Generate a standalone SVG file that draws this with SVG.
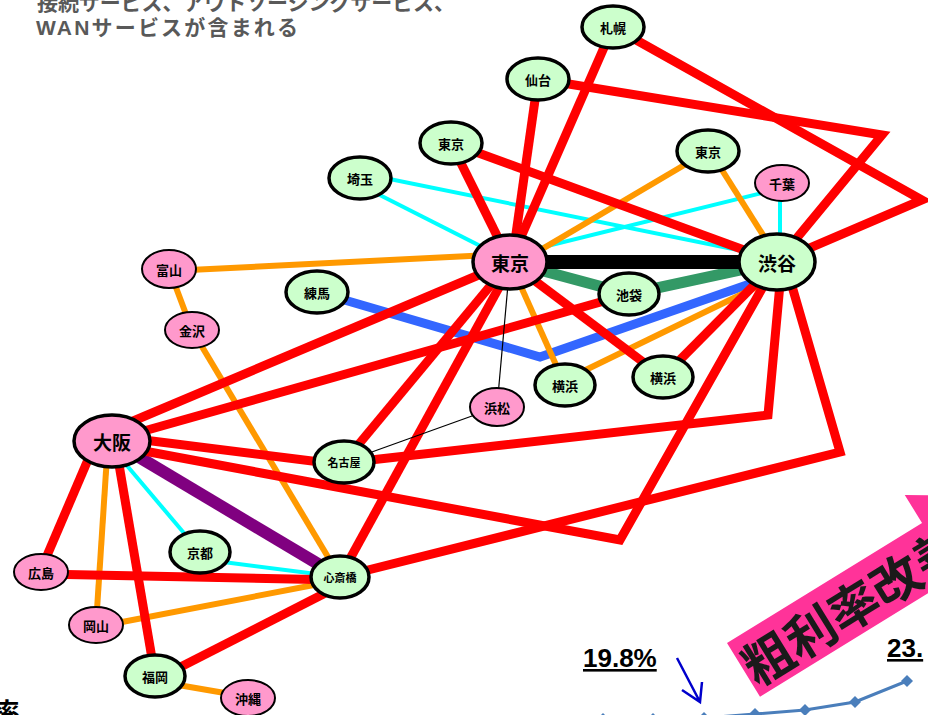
<svg xmlns="http://www.w3.org/2000/svg" width="928" height="715" viewBox="0 0 928 715">
<style>
.r{stroke:#FF0000;stroke-width:9;fill:none;stroke-linejoin:miter}
.o{stroke:#FF9900;stroke-width:6;fill:none}
.c{stroke:#00FFFF;stroke-width:4;fill:none}
.k{stroke:#000000;stroke-width:1.2;fill:none}
.g ellipse{fill:#CCFFCC;stroke:#000;stroke-width:3.5}
.p ellipse{fill:#FF99CC;stroke:#000;stroke-width:2}
.p.big ellipse{stroke-width:3.5}
.n text{font-family:"Noto Sans CJK JP","Noto Sans",sans-serif;font-weight:bold;font-size:13px;text-anchor:middle;dominant-baseline:central;fill:#000}
.n.big text{font-size:19px}
.n.sm text{font-size:11px}
</style>
<defs>
<path id="dia" d="M0,-6 L6,0 L0,6 L-6,0 Z" fill="#4A7EBB"/>
</defs>

<g id="header" font-family="'Liberation Sans','Noto Sans CJK JP',sans-serif" font-weight="bold" font-size="21" fill="#595959">
<text x="37" y="10" textLength="418" lengthAdjust="spacing">接続サービス、アウトソーシングサービス、</text>
<text x="36" y="35" textLength="262" lengthAdjust="spacing">WANサービスが含まれる</text>
</g>

<g id="connectors">
<path d="M317,292 L540,357 L770,277" stroke="#3366FF" stroke-width="9" fill="none" stroke-linejoin="miter"/>
<path d="M112,441 L340,577" stroke="#800080" stroke-width="12" fill="none"/>
<path d="M510,262 L629,294 L777,262" stroke="#339966" stroke-width="11" fill="none"/>
<path d="M510,262 L777,262" stroke="#000000" stroke-width="14" fill="none"/>

<path class="c" d="M360,185 L510,261"/>
<path class="c" d="M360,173 L777,258"/>
<path class="c" d="M782,188 L515,254"/>
<path class="c" d="M780,183 L780,262"/>
<path class="c" d="M118,455 L200,552"/>
<path class="c" d="M200,559 L340,577"/>

<path class="o" d="M169,271 L510,254"/>
<path class="o" d="M169,269 L192,330"/>
<path class="o" d="M192,330 L340,577"/>
<path class="o" d="M515,265 L708,151"/>
<path class="o" d="M710,151 L780,262"/>
<path class="o" d="M510,262 L565,385"/>
<path class="o" d="M565,380 L777,277"/>
<path class="o" d="M108,441 L96,625"/>
<path class="o" d="M96,627 L340,580"/>
<path class="o" d="M155,681 L248,697"/>

<path class="r" d="M613,27 L510,262"/>
<path class="r" d="M613,27 L922,200 L777,262"/>
<path class="r" d="M538,79 L512,262"/>
<path class="r" d="M538,79 L882,135 L777,262"/>
<path class="r" d="M451,143 L510,262"/>
<path class="r" d="M451,143 L777,262"/>
<path class="r" d="M100,435 L500,266"/>
<path class="r" d="M112,440 L629,294"/>
<path class="r" d="M112,436 L344,465"/>
<path class="r" d="M344,463 L768,415 L782,262"/>
<path class="r" d="M112,445 L620,540 L777,262"/>
<path class="r" d="M340,577 L840,452 L785,262"/>
<path class="r" d="M340,577 L513,262"/>
<path class="r" d="M344,462 L510,262"/>
<path class="r" d="M510,262 L663,377"/>
<path class="r" d="M777,262 L663,377"/>
<path class="r" d="M96,441 L40,572"/>
<path class="r" d="M115,441 L155,676"/>
<path class="r" d="M41,574 L340,580"/>
<path class="r" d="M155,680 L345,583"/>

<path class="k" d="M510,262 L497,407"/>
<path class="k" d="M497,407 L344,462"/>
</g>

<g id="n_sapporo" class="n g"><ellipse cx="613" cy="27" rx="31" ry="21"/><text x="613" y="27">札幌</text></g>
<g id="n_sendai" class="n g"><ellipse cx="538" cy="79" rx="31" ry="21"/><text x="538" y="79">仙台</text></g>
<g id="n_tokyo_top" class="n g"><ellipse cx="451" cy="143" rx="31" ry="21"/><text x="451" y="143">東京</text></g>
<g id="n_saitama" class="n g"><ellipse cx="360" cy="178" rx="31" ry="21"/><text x="360" y="178">埼玉</text></g>
<g id="n_tokyo_right" class="n g"><ellipse cx="708" cy="151" rx="31" ry="21"/><text x="708" y="151">東京</text></g>
<g id="n_chiba" class="n p"><ellipse cx="782" cy="183" rx="27" ry="18"/><text x="782" y="183">千葉</text></g>
<g id="n_tokyo" class="n p big"><ellipse cx="510" cy="262" rx="37" ry="27"/><text x="510" y="262">東京</text></g>
<g id="n_shibuya" class="n g big"><ellipse cx="777" cy="262" rx="38" ry="28"/><text x="777" y="262">渋谷</text></g>
<g id="n_toyama" class="n p"><ellipse cx="169" cy="269" rx="27" ry="19"/><text x="169" y="269">富山</text></g>
<g id="n_nerima" class="n g"><ellipse cx="317" cy="292" rx="31" ry="21"/><text x="317" y="292">練馬</text></g>
<g id="n_ikebukuro" class="n g"><ellipse cx="629" cy="294" rx="30" ry="21"/><text x="629" y="294">池袋</text></g>
<g id="n_kanazawa" class="n p"><ellipse cx="192" cy="330" rx="27" ry="18"/><text x="192" y="330">金沢</text></g>
<g id="n_yokohama1" class="n g"><ellipse cx="565" cy="385" rx="30" ry="21"/><text x="565" y="385">横浜</text></g>
<g id="n_yokohama2" class="n g"><ellipse cx="663" cy="377" rx="30" ry="21"/><text x="663" y="377">横浜</text></g>
<g id="n_hamamatsu" class="n p"><ellipse cx="497" cy="407" rx="27" ry="19"/><text x="497" y="407">浜松</text></g>
<g id="n_osaka" class="n p big"><ellipse cx="112" cy="441" rx="38" ry="26"/><text x="112" y="441">大阪</text></g>
<g id="n_nagoya" class="n g sm"><ellipse cx="344" cy="462" rx="30" ry="21"/><text x="344" y="462">名古屋</text></g>
<g id="n_kyoto" class="n g"><ellipse cx="200" cy="552" rx="30" ry="21"/><text x="200" y="552">京都</text></g>
<g id="n_shinsaibashi" class="n g sm"><ellipse cx="340" cy="577" rx="29" ry="21"/><text x="340" y="577">心斎橋</text></g>
<g id="n_hiroshima" class="n p"><ellipse cx="41" cy="572" rx="27" ry="18"/><text x="41" y="572">広島</text></g>
<g id="n_okayama" class="n p"><ellipse cx="96" cy="625" rx="27" ry="18"/><text x="96" y="625">岡山</text></g>
<g id="n_fukuoka" class="n g"><ellipse cx="155" cy="676" rx="30" ry="21"/><text x="155" y="676">福岡</text></g>
<g id="n_okinawa" class="n p"><ellipse cx="248" cy="698" rx="27" ry="18"/><text x="248" y="698">沖縄</text></g>

<g id="chart">
<polyline points="603,719 653,719 704,718 755,714 805,710 855,702 907,681" fill="none" stroke="#4A7EBB" stroke-width="3"/>
<use href="#dia" x="603" y="719"/>
<use href="#dia" x="653" y="719"/>
<use href="#dia" x="704" y="718"/>
<use href="#dia" x="755" y="714"/>
<use href="#dia" x="805" y="710"/>
<use href="#dia" x="855" y="702"/>
<use href="#dia" x="907" y="681"/>
<path d="M677,658 L700,702 M682,690 L700,702 L702,682" stroke="#0000CC" stroke-width="2.5" fill="none"/>
<text x="583" y="667" font-family="'Liberation Sans',sans-serif" font-weight="bold" font-size="26" text-decoration="underline" fill="#000">19.8%</text>
<text x="887" y="657" font-family="'Liberation Sans',sans-serif" font-weight="bold" font-size="26" text-decoration="underline" fill="#000">23.</text>
<text x="-6" y="722" font-family="'Noto Sans CJK JP',sans-serif" font-weight="bold" font-size="26" fill="#000">率</text>
</g>

<g id="banner" transform="translate(727,643) rotate(-31.6)">
<polygon points="0,0 229,0 229,-33 330,31.5 229,96 229,63 0,63" fill="#FF3399"/>
<text x="2" y="31.5" font-family="'Noto Sans CJK JP',sans-serif" font-weight="bold" font-size="50" dominant-baseline="central" fill="#1A1A1A">粗利率改善</text>
</g>
</svg>
